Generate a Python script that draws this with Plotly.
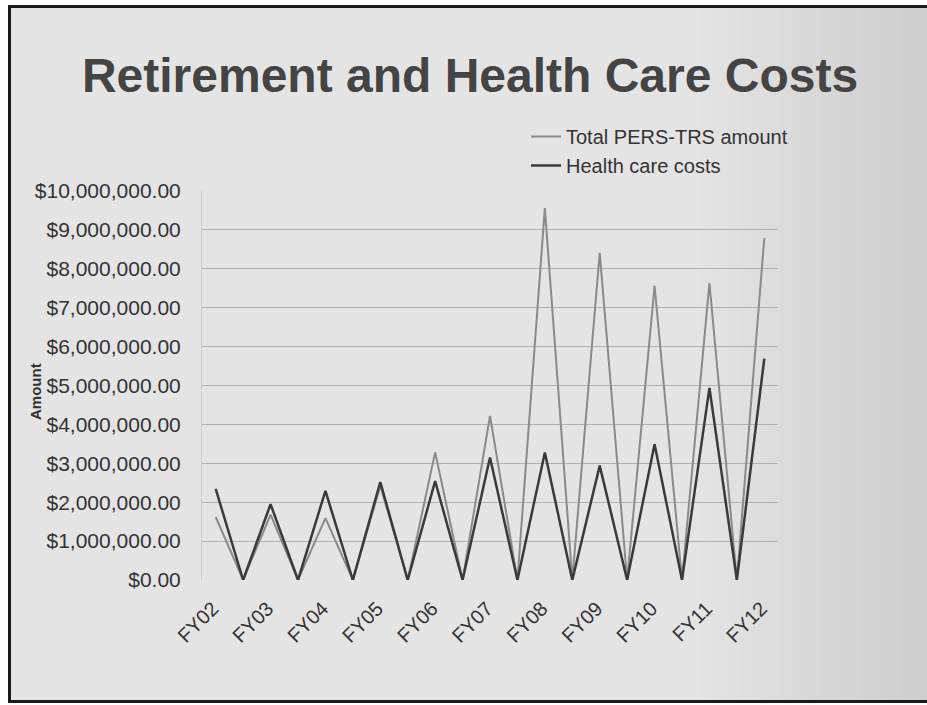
import plotly.graph_objects as go

# ---- data ----
periods = ["FY02", "FY02-03", "FY03", "FY03-04", "FY04", "FY04-05", "FY05", "FY05-06",
           "FY06", "FY06-07", "FY07", "FY07-08", "FY08", "FY08-09", "FY09", "FY09-10",
           "FY10", "FY10-11", "FY11", "FY11-12", "FY12"]
tick_labels = ["FY02", "FY03", "FY04", "FY05", "FY06", "FY07", "FY08", "FY09", "FY10", "FY11", "FY12"]
pers_trs_total = [1620000, 0, 1680000, 0, 1590000, 0, 2420000, 0, 3280000, 0, 4220000, 0,
                  9560000, 0, 8410000, 0, 7560000, 0, 7630000, 0, 8790000]
health_care = [2340000, 0, 1950000, 0, 2290000, 0, 2520000, 0, 2540000, 0, 3150000, 0,
               3280000, 0, 2940000, 0, 3490000, 0, 4940000, 0, 5690000]
y_ticks = [0, 1000000, 2000000, 3000000, 4000000, 5000000, 6000000, 7000000, 8000000, 9000000, 10000000]

W, H = 927, 705
L, R, T, B = 202, 149, 191, 125
pw, ph = W - L - R, H - T - B

def px(x):
    return (x - L) / pw

def py(y):
    return (H - B - y) / ph

FONT = "Liberation Sans, Arial, sans-serif"

fig = go.Figure()
fig.add_trace(go.Scatter(x=periods, y=pers_trs_total, mode="lines", name="Total PERS-TRS amount",
                         line=dict(color="#8a8a8a", width=2)))
fig.add_trace(go.Scatter(x=periods, y=health_care, mode="lines", name="Health care costs",
                         line=dict(color="#3a3a3a", width=2.5)))

shapes = []
# smooth darkening toward the right of the slide background
for x0 in range(700, 930, 10):
    shapes.append(dict(type="rect", xref="paper", yref="paper", x0=px(x0), x1=px(W + 2),
                       y0=py(H + 2), y1=py(-2), fillcolor="#000000", opacity=0.0035,
                       line=dict(width=0), layer="below"))
# white margin outside the frame
shapes.append(dict(type="rect", xref="paper", yref="paper", x0=px(-2), x1=px(8), y0=py(H + 2), y1=py(-2),
                   fillcolor="#ffffff", line=dict(width=0), layer="below"))
shapes.append(dict(type="rect", xref="paper", yref="paper", x0=px(-2), x1=px(W + 2), y0=py(5), y1=py(-2),
                   fillcolor="#ffffff", line=dict(width=0), layer="below"))
shapes.append(dict(type="rect", xref="paper", yref="paper", x0=px(-2), x1=px(W + 2), y0=py(H + 2), y1=py(703),
                   fillcolor="#ffffff", line=dict(width=0), layer="below"))
# black frame lines
shapes.append(dict(type="line", xref="paper", yref="paper", x0=px(9.5), x1=px(9.5), y0=py(5), y1=py(703),
                   line=dict(color="#1a1a1a", width=3)))
shapes.append(dict(type="line", xref="paper", yref="paper", x0=px(8), x1=px(W + 2), y0=py(6.5), y1=py(6.5),
                   line=dict(color="#1a1a1a", width=3)))
shapes.append(dict(type="line", xref="paper", yref="paper", x0=px(8), x1=px(W + 2), y0=py(701.5), y1=py(701.5),
                   line=dict(color="#1a1a1a", width=3)))

fig.update_layout(
    width=W, height=H,
    margin=dict(l=L, r=R, t=T, b=B, autoexpand=False),
    paper_bgcolor="#e4e4e4",
    plot_bgcolor="rgba(0,0,0,0)",
    font=dict(family=FONT, color="#333333", size=20),
    title=dict(text="<b>Retirement and Health Care Costs</b>", xref="container", yref="container",
               x=470 / W, y=1 - 75 / H, xanchor="center", yanchor="middle",
               font=dict(family=FONT, size=48, color="#444444")),
    showlegend=True,
    legend=dict(x=px(526), y=py(117), xanchor="left", yanchor="top", xref="paper", yref="paper",
                bgcolor="rgba(0,0,0,0)", font=dict(family=FONT, size=20, color="#333333"),
                itemwidth=30, tracegroupgap=0),
    shapes=shapes,
    annotations=[dict(text="<b>Amount</b>", xref="paper", yref="paper", x=px(35), y=py(392),
                      xanchor="center", yanchor="middle", textangle=-90, showarrow=False,
                      font=dict(family=FONT, size=15, color="#333333"))],
)

fig.update_xaxes(type="category", categoryorder="array", categoryarray=periods,
                 range=[-0.5, len(periods) - 0.5], tickmode="array", tickvals=tick_labels,
                 ticktext=tick_labels, tickangle=-45, showgrid=False, zeroline=False,
                 showline=False, ticks="", ticklabelstandoff=12, ticklabelshift=-3,
                 tickfont=dict(size=20, color="#333333"))
fig.update_yaxes(range=[0, 10000000], tickmode="array", tickvals=y_ticks, tickformat="$,.2f",
                 showgrid=True, gridcolor="#b0b0b0", gridwidth=1, zeroline=False,
                 showline=True, linecolor="#c8c8c8", linewidth=1, ticks="", ticklabelstandoff=16,
                 tickfont=dict(size=21, color="#333333"))

fig.write_html("out.html", config={"displayModeBar": False},
               post_script="document.body.style.margin='0';")
